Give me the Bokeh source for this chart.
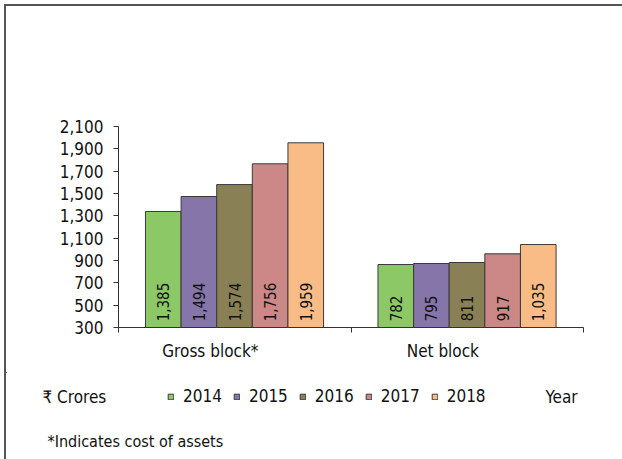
import numpy as np
from bokeh.plotting import figure
from bokeh.layouts import column
from bokeh.models import (Range1d, FixedTicker, NumeralTickFormatter, Legend,
                          LegendItem, ColumnDataSource)
from bokeh.embed import file_html
from bokeh.resources import INLINE
from bokeh.core.properties import value

# ---------------- data ----------------
categories = ["Gross block*", "Net block"]
years = ["2014", "2015", "2016", "2017", "2018"]
gross_bars = [1339, 1473, 1580, 1766, 1954]
net_bars = [864, 873, 882, 960, 1043]
gross_labels = ["1,385", "1,494", "1,574", "1,756", "1,959"]
net_labels = ["782", "795", "811", "917", "1,035"]
colors = ["#8DC866", "#8675A9", "#898155", "#CC8787", "#F9BC87"]
y_ticks = [300, 500, 700, 900, 1100, 1300, 1500, 1700, 1900, 2100]
unit_text = "₹ Crores"
axis_text = "Year"
note_text = "*Indicates cost of assets"

FONT = "DejaVu Sans Condensed"
TXT = "#111111"
FRAME = "#555555"


def noalign(f):
    if "frame_align" in f.properties():
        f.frame_align = False
    return f


# -------- main chart (canvas starts at page x=6, y=6) --------
p = figure(width=616, height=366, output_backend="svg", toolbar_location=None,
           title=None, x_range=Range1d(0, 2), y_range=Range1d(300, 2100),
           min_border_left=112, min_border_right=39,
           min_border_top=120, min_border_bottom=45)
noalign(p)
p.outline_line_color = None
p.xgrid.visible = False
p.ygrid.visible = False
p.background_fill_color = "white"
p.border_fill_color = "white"

group_start = 0.116
bar_w = 0.1532
label_y = 355
for i, yr in enumerate(years):
    xs = [c + group_start + (i + 0.5) * bar_w for c in range(len(categories))]
    src = ColumnDataSource(dict(x=xs, top=[gross_bars[i], net_bars[i]],
                                lab=[gross_labels[i], net_labels[i]],
                                ly=[label_y] * len(xs)))
    p.vbar(x="x", top="top", bottom=300, width=bar_w, source=src,
           fill_color=colors[i], line_color="#3a3a3a", line_width=1)
    p.text(x="x", y="ly", text="lab", source=src, angle=np.pi / 2,
           text_align="left", text_baseline="middle",
           text_font=value(FONT), text_font_size="15px", text_color=TXT)

ya = p.yaxis[0]
ya.ticker = FixedTicker(ticks=y_ticks)
ya.formatter = NumeralTickFormatter(format="0,0")
ya.major_tick_out = 5
ya.major_tick_in = 0
ya.minor_tick_line_color = None
ya.major_label_standoff = 10
ya.major_label_text_font = FONT
ya.major_label_text_font_size = "17px"
ya.major_label_text_color = TXT
ya.axis_line_color = "#333333"
ya.major_tick_line_color = "#333333"

xa = p.xaxis[0]
label_pos = [c + 0.395 for c in range(len(categories))]
xa.ticker = FixedTicker(ticks=label_pos, minor_ticks=list(range(len(categories) + 1)))
xa.major_label_overrides = {label_pos[k]: categories[k] for k in range(len(categories))}
xa.major_tick_line_color = None
xa.minor_tick_out = 5
xa.minor_tick_in = 0
xa.minor_tick_line_color = "#333333"
xa.axis_line_color = "#333333"
xa.major_label_standoff = 7
xa.major_label_text_font = FONT
xa.major_label_text_font_size = "17px"
xa.major_label_text_color = TXT

# -------- bottom strip: legend + notes (page pixel coordinates) --------
b = figure(width=616, height=87, output_backend="svg", toolbar_location=None,
           title=None, x_range=Range1d(6, 622), y_range=Range1d(459, 372),
           x_axis_location=None, y_axis_location=None, min_border=0)
noalign(b)
b.outline_line_color = None
b.xgrid.visible = False
b.ygrid.visible = False
b.background_fill_color = "white"
b.border_fill_color = "white"

items = []
for yr, c in zip(years, colors):
    r = b.vbar(x=[-1000], top=[0], bottom=[0], width=1, fill_color=c, line_color="#3a3a3a")
    items.append(LegendItem(label=yr, renderers=[r]))
legend = Legend(items=items, orientation="horizontal", location=(161, 53),
                glyph_width=7, glyph_height=7, label_standoff=9, spacing=11,
                label_height=20, padding=0, margin=0, border_line_color=None,
                background_fill_alpha=0, label_text_font=FONT,
                label_text_font_size="17px", label_text_color=TXT,
                label_text_baseline="middle")
b.add_layout(legend)
for txt, x, y, fs in [(unit_text, 42, 396, "17px"), (axis_text, 545, 396, "17px"),
                      (note_text, 47, 441, "16px")]:
    b.text(x=[x], y=[y], text=[txt], text_font=value(FONT), text_font_size=fs,
           text_color=TXT, text_baseline="middle", text_align="left")

inner = column(p, b, spacing=0)
layout = column(inner, spacing=0,
                styles={"box-sizing": "content-box",
                        "border-top": "2px solid " + FRAME,
                        "border-left": "2px solid " + FRAME,
                        "margin-top": "4px", "margin-left": "4px"})
open("out.html", "w").write(file_html(layout, INLINE))
